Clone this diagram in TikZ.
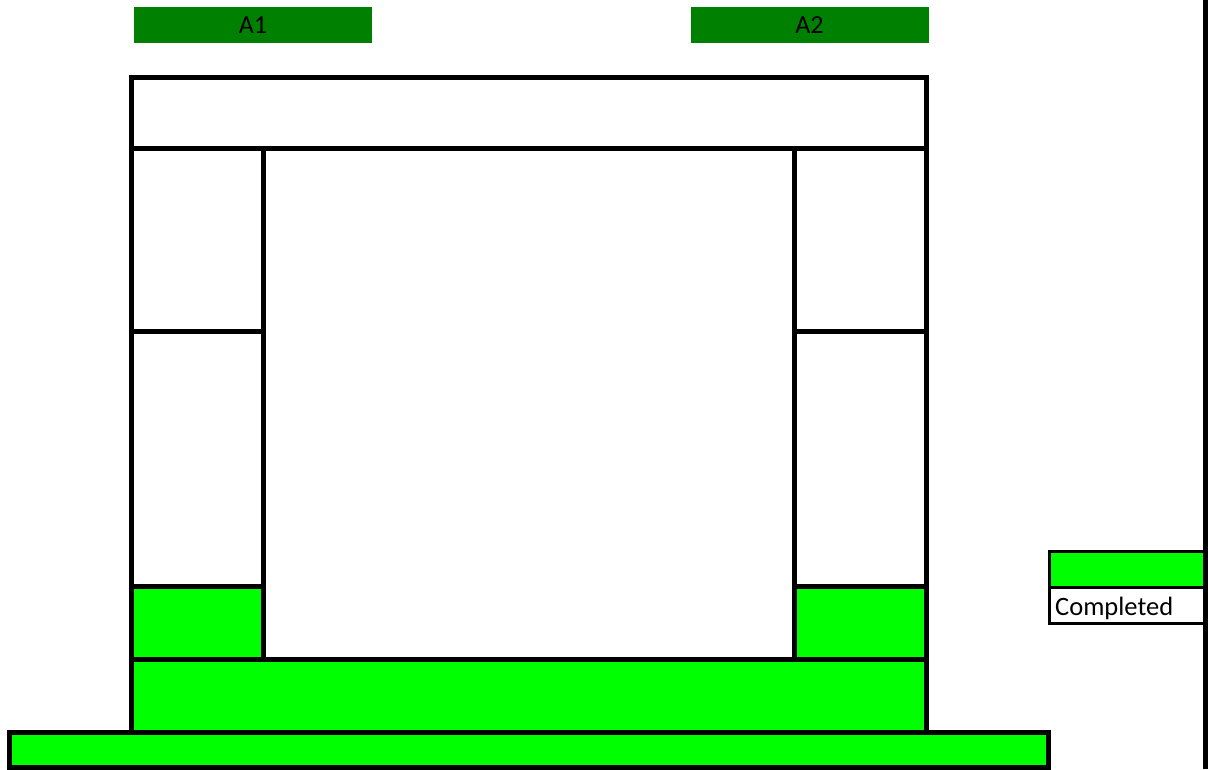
\documentclass[tikz,border=0pt]{standalone}
\usepackage{fontspec}
\setmainfont{Carlito}
\definecolor{done}{HTML}{00FF00}
\definecolor{hdr}{HTML}{008000}
\begin{document}
\begin{tikzpicture}[x=1pt,y=-1pt,
  cell/.style={draw=black, line width=5pt, line join=miter},
  donecell/.style={cell, fill=done},
  header/.style={fill=hdr, inner sep=0pt, minimum width=238pt, minimum height=36pt, font=\fontsize{26}{26}\selectfont, text=black},
  legendbox/.style={draw=black, line width=3pt}]
\useasboundingbox (0,0) rectangle (1208,769);
% headers
\node[header] (a1) at (253,25) {A1};
\node[header] (a2) at (809.5,25) {A2};
% top beam
\draw[cell] (131.5,77.5) rectangle (926.5,148.5);
% left column
\draw[cell] (131.5,148.5) rectangle (263.5,331.5);
\draw[cell] (131.5,331.5) rectangle (263.5,586.5);
\draw[donecell] (131.5,586.5) rectangle (263.5,659.5);
% centre
\draw[cell] (263.5,148.5) rectangle (794.5,659.5);
% right column
\draw[cell] (794.5,148.5) rectangle (926.5,331.5);
\draw[cell] (794.5,331.5) rectangle (926.5,586.5);
\draw[donecell] (794.5,586.5) rectangle (926.5,659.5);
% bottom band
\draw[donecell] (131.5,659.5) rectangle (926.5,732.5);
% base
\draw[donecell] (9.5,732.5) rectangle (1048.5,767.5);
% legend
\draw[legendbox, fill=done] (1049.5,551.5) rectangle (1204,587);
\draw[legendbox] (1049.5,587) rectangle (1204,623.5);
\node[anchor=west, inner sep=0pt, font=\fontsize{26.5}{26.5}\selectfont] (lg) at (1055,608.5) {Completed};
% right edge line
\fill[black] (1203,0) rectangle (1208,769);
\end{tikzpicture}
\end{document}
